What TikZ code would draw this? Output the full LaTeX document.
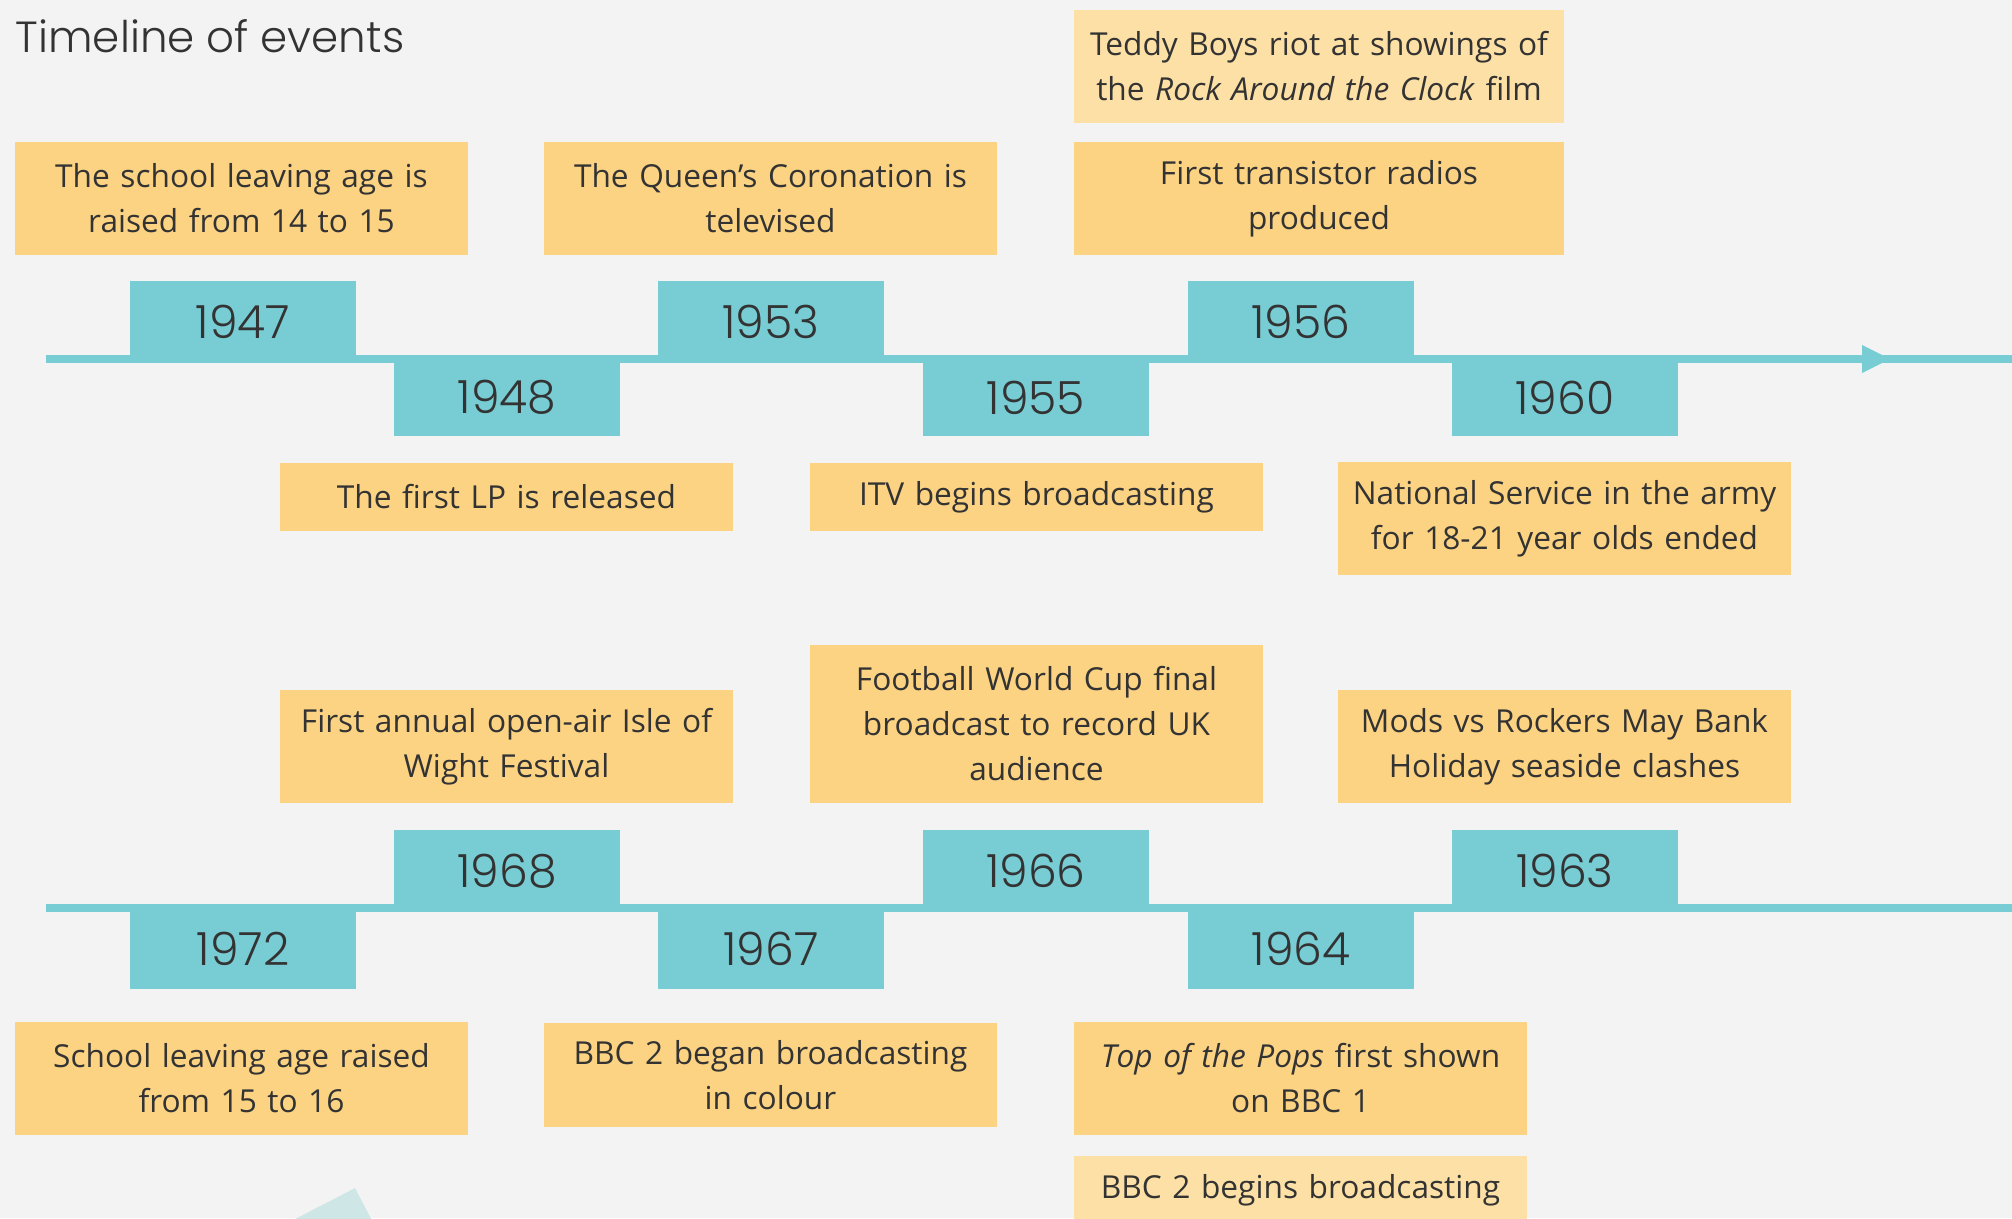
\documentclass[tikz,border=0pt]{standalone}
\usepackage{fontspec}
\setmainfont{Open Sans}
\newfontfamily\thinfont{Poppins Light}
\usetikzlibrary{positioning}
\usetikzlibrary{calc}

\definecolor{bggray}{HTML}{F3F3F3}
\definecolor{tealbar}{HTML}{78CCD4}
\definecolor{evorange}{HTML}{FBD383}
\definecolor{evlight}{HTML}{FDE0A5}
\definecolor{inkgray}{HTML}{333333}
\definecolor{paleteal}{HTML}{CFE6E7}

\begin{document}
\begin{tikzpicture}[x=0.01cm, y=-0.01cm,
    yearup/.style={fill=tealbar, anchor=south, minimum width=2.26cm, minimum height=0.81cm, inner sep=0pt,
      text=inkgray, font=\thinfont\fontsize{13}{15}\selectfont},
    yeardown/.style={yearup, anchor=north, minimum height=0.76cm},
    event/.style={fill=evorange, minimum width=4.53cm, text width=4.53cm, align=center, inner sep=0pt,
      text=inkgray, font=\fontsize{9}{12.8}\selectfont},
    oneline/.style={minimum height=0.68cm},
    twoline/.style={minimum height=1.13cm}]

  % page and background
  \fill[bggray] (0,0) rectangle (2012,1218);
  \useasboundingbox (0,0) rectangle (2012,1218);

  \node[anchor=base west, inner sep=0pt, text=inkgray, font=\thinfont\fontsize{12.4}{15}\selectfont] (title) at (15,52) {Timeline of events};

  % the two time axes
  \coordinate (start1) at (46,359);
  \coordinate (end1) at (2020,359);
  \coordinate (start2) at (46,908);
  \coordinate (end2) at (2020,908);
  \coordinate (tip1) at (1890,359);

  \draw[tealbar, line width=0.08cm] (start1) -- (end1);
  \draw[tealbar, line width=0.08cm] (start2) -- (end2);
  \fill[tealbar] ($(tip1)+(-28,-14)$) -- (tip1) -- ($(tip1)+(-28,14)$) -- cycle;

  % years, first row
  \foreach \yr/\xx in {1947/243, 1953/771, 1956/1301}
    \node[yearup] (y\yr) at (\xx,363) {\yr};
  \foreach \yr/\xx in {1948/507, 1955/1036, 1960/1565}
    \node[yeardown] (y\yr) at (\xx,359) {\yr};

  % years, second row
  \foreach \yr/\xx in {1968/507, 1966/1036, 1963/1565}
    \node[yearup] (y\yr) at (\xx,912) {\yr};
  \foreach \yr/\xx in {1972/243, 1967/771, 1964/1301}
    \node[yeardown, minimum height=0.8cm] (y\yr) at (\xx,908) {\yr};

  % events, first row
  \node[event, twoline] (leave14) at (241.5,198.5) {The school leaving age is\\raised from 14 to 15};
  \node[event, twoline] (crown) at (770.5,198.5) {The Queen's Coronation is\\televised};
  \node[event, twoline, minimum width=4.9cm, text width=4.9cm] (radios) at (1319,198.5) {First transistor radios\\produced};
  \node[event, twoline, fill=evlight, minimum width=4.9cm, text width=4.9cm] (teddy) at (1319,66.5) {Teddy Boys riot at showings of\\the \textit{Rock Around the Clock} film};
  \node[event, oneline] (firstlp) at (506.5,497) {The first LP is released};
  \node[event, oneline] (itv) at (1036.5,497) {ITV begins broadcasting};
  \node[event, twoline] (service) at (1564.5,518.5) {National Service in the army\\for 18-21 year olds ended};

  % events, second row
  \node[event, twoline] (wight) at (506.5,746.5) {First annual open-air Isle of\\Wight Festival};
  \node[event, minimum height=1.58cm] (worldcup) at (1036.5,724) {Football World Cup final\\broadcast to record UK\\audience};
  \node[event, twoline] (mods) at (1564.5,746.5) {Mods vs Rockers May Bank\\Holiday seaside clashes};
  \node[event, twoline] (leave15) at (241.5,1078.5) {School leaving age raised\\from 15 to 16};
  \node[event, minimum height=1.04cm] (colour) at (770.5,1075) {BBC 2 began broadcasting\\in colour};
  \node[event, twoline] (pops) at (1300.5,1078.5) {\textit{Top of the Pops} first shown\\on BBC 1};
  \node[event, oneline, fill=evlight] (bbctwo) at (1300.5,1190) {BBC 2 begins broadcasting};

  % pale shape cut by the lower edge
  \coordinate (corner) at (355,1188);
  \fill[paleteal] (corner) -- ($(corner)+(-81,42)$) -- ($(corner)+(22,42)$) -- cycle;

\end{tikzpicture}
\end{document}
